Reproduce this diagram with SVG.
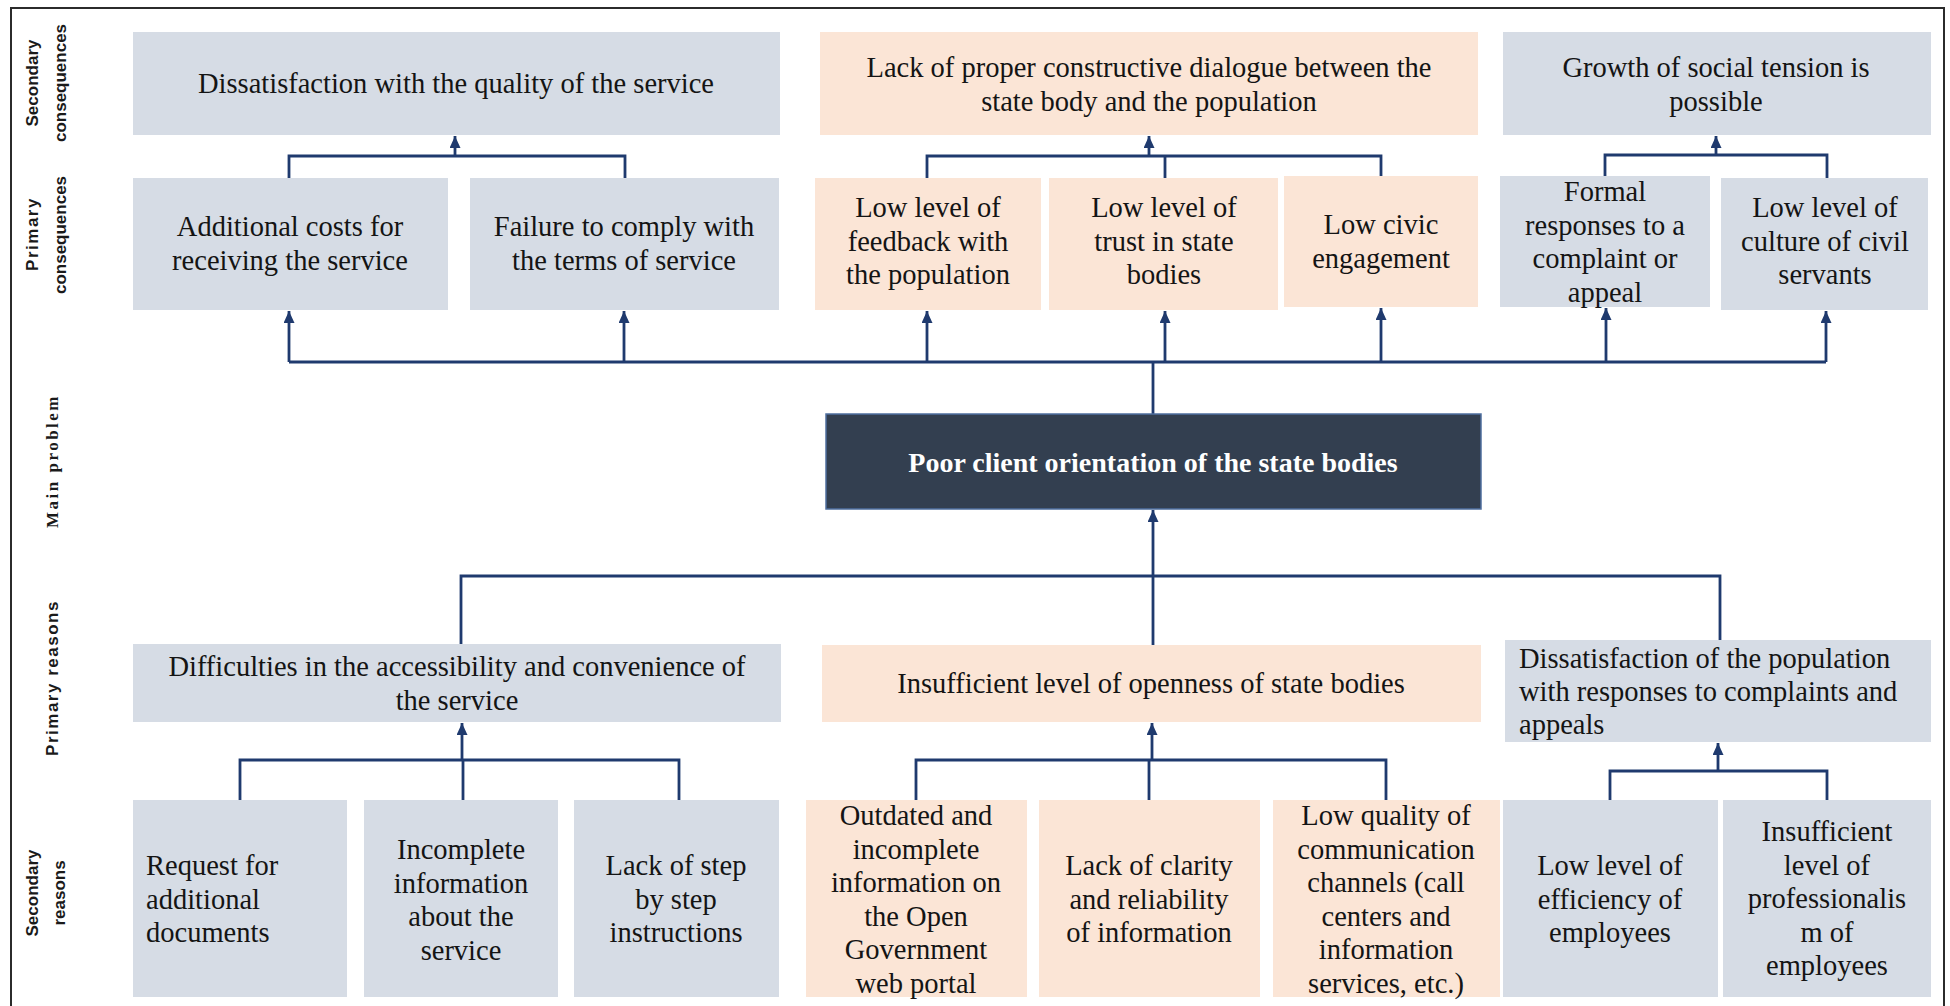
<svg xmlns="http://www.w3.org/2000/svg" width="1950" height="1006" viewBox="0 0 1950 1006">
<defs>
<style>
.bl{fill:#d6dce5}
.pe{fill:#fbe5d6}
.mn{fill:#333f50;stroke:#4f6f9f;stroke-width:1.5}
.t{font-family:"Liberation Serif","Times New Roman",serif;font-size:28.5px;fill:#141414;text-anchor:middle}
.tl{text-anchor:start}
.tm{font-family:"Liberation Serif","Times New Roman",serif;font-size:28px;font-weight:bold;fill:#ffffff;text-anchor:middle}
.lab{font-family:"Liberation Sans",Arial,sans-serif;font-size:17px;font-weight:bold;fill:#1a1a1a;text-anchor:middle}
.labm{font-family:"Liberation Serif","Times New Roman",serif;font-size:17px;font-weight:bold;fill:#1a1a1a;text-anchor:middle;letter-spacing:2.5px}
.c{fill:none;stroke:#1f3a6e;stroke-width:2.8}
</style>
<marker id="ah" markerUnits="userSpaceOnUse" markerWidth="12" markerHeight="12" refX="12" refY="5.5" orient="auto">
<path d="M0,0 L12,5.5 L0,11 z" fill="#1f3a6e"/>
</marker>
</defs>
<rect x="0" y="0" width="1950" height="1006" fill="#ffffff"/>
<path d="M11,1010 V8 H1944 V1010" fill="none" stroke="#2b2b2b" stroke-width="2"/>

<g id="row-labels">
<text class="lab" transform="translate(38,83) rotate(-90)">Secondary</text>
<text class="lab" transform="translate(66,83) rotate(-90)">consequences</text>
<text class="lab" transform="translate(38,234) rotate(-90)" letter-spacing="1.5">Primary</text>
<text class="lab" transform="translate(66,235) rotate(-90)">consequences</text>
<text class="labm" transform="translate(58,461) rotate(-90)">Main problem</text>
<text class="lab" transform="translate(58,678) rotate(-90)" letter-spacing="1.5">Primary reasons</text>
<text class="lab" transform="translate(38,893) rotate(-90)">Secondary</text>
<text class="lab" transform="translate(65,893) rotate(-90)">reasons</text>
</g>

<g id="connectors">
<path class="c" d="M289,178 V156 H625 V178"/>
<path class="c" d="M455,156 V136" marker-end="url(#ah)"/>
<path class="c" d="M927,178 V156 H1381 V176"/>
<path class="c" d="M1165,156 V178"/>
<path class="c" d="M1149,156 V136" marker-end="url(#ah)"/>
<path class="c" d="M1605,176 V155 H1827 V178"/>
<path class="c" d="M1716,155 V136" marker-end="url(#ah)"/>
<path class="c" d="M289,362 H1826"/>
<path class="c" d="M289,362 V311" marker-end="url(#ah)"/>
<path class="c" d="M624,362 V311" marker-end="url(#ah)"/>
<path class="c" d="M927,362 V311" marker-end="url(#ah)"/>
<path class="c" d="M1165,362 V311" marker-end="url(#ah)"/>
<path class="c" d="M1381,362 V308" marker-end="url(#ah)"/>
<path class="c" d="M1606,362 V308" marker-end="url(#ah)"/>
<path class="c" d="M1826,362 V311" marker-end="url(#ah)"/>
<path class="c" d="M1153,414 V361" stroke-width="4"/>
<path class="c" d="M1153,645 V510" stroke-width="3.5" marker-end="url(#ah)"/>
<path class="c" d="M461,644 V576 H1720 V640"/>
<path class="c" d="M240,800 V760 H679 V800"/>
<path class="c" d="M463,760 V800"/>
<path class="c" d="M462,760 V723" marker-end="url(#ah)"/>
<path class="c" d="M916,800 V760 H1386 V800"/>
<path class="c" d="M1149,760 V800"/>
<path class="c" d="M1152,760 V723" marker-end="url(#ah)"/>
<path class="c" d="M1610,800 V771 H1827 V800"/>
<path class="c" d="M1718,771 V743" marker-end="url(#ah)"/>
</g>

<g id="sc1"><rect class="bl" x="133" y="32" width="647" height="103"/>
<text class="t" x="456" y="93">Dissatisfaction with the quality of the service</text></g>
<g id="sc2"><rect class="pe" x="820" y="32" width="658" height="103"/>
<text class="t" x="1149" y="77">Lack of proper constructive dialogue between the<tspan x="1149" dy="33.5">state body and the population</tspan></text></g>
<g id="sc3"><rect class="bl" x="1503" y="32" width="428" height="103"/>
<text class="t" x="1716" y="77">Growth of social tension is<tspan x="1716" dy="33.5">possible</tspan></text></g>

<g id="pc1"><rect class="bl" x="133" y="178" width="315" height="132"/>
<text class="t" x="290" y="236">Additional costs for<tspan x="290" dy="33.5">receiving the service</tspan></text></g>
<g id="pc2"><rect class="bl" x="470" y="178" width="309" height="132"/>
<text class="t" x="624" y="236">Failure to comply with<tspan x="624" dy="33.5">the terms of service</tspan></text></g>
<g id="pc3"><rect class="pe" x="815" y="178" width="226" height="132"/>
<text class="t" x="928" y="217">Low level of<tspan x="928" dy="33.5">feedback with</tspan><tspan x="928" dy="33.5">the population</tspan></text></g>
<g id="pc4"><rect class="pe" x="1049" y="178" width="229" height="132"/>
<text class="t" x="1164" y="217">Low level of<tspan x="1164" dy="33.5">trust in state</tspan><tspan x="1164" dy="33.5">bodies</tspan></text></g>
<g id="pc5"><rect class="pe" x="1284" y="176" width="194" height="131"/>
<text class="t" x="1381" y="234">Low civic<tspan x="1381" dy="33.5">engagement</tspan></text></g>
<g id="pc6"><rect class="bl" x="1500" y="176" width="210" height="131"/>
<text class="t" x="1605" y="201">Formal<tspan x="1605" dy="33.5">responses to a</tspan><tspan x="1605" dy="33.5">complaint or</tspan><tspan x="1605" dy="33.5">appeal</tspan></text></g>
<g id="pc7"><rect class="bl" x="1721" y="178" width="207" height="132"/>
<text class="t" x="1825" y="217">Low level of<tspan x="1825" dy="33.5">culture of civil</tspan><tspan x="1825" dy="33.5">servants</tspan></text></g>

<g id="main"><rect class="mn" x="826" y="414" width="655" height="95"/>
<text class="tm" x="1153" y="472">Poor client orientation of the state bodies</text></g>

<g id="pr1"><rect class="bl" x="133" y="644" width="648" height="78"/>
<text class="t" x="457" y="676">Difficulties in the accessibility and convenience of<tspan x="457" dy="33.5">the service</tspan></text></g>
<g id="pr2"><rect class="pe" x="822" y="645" width="659" height="77"/>
<text class="t" x="1151" y="693">Insufficient level of openness of state bodies</text></g>
<g id="pr3"><rect class="bl" x="1505" y="640" width="426" height="102"/>
<text class="t tl" x="1519" y="668">Dissatisfaction of the population<tspan x="1519" dy="33">with responses to complaints and</tspan><tspan x="1519" dy="33">appeals</tspan></text></g>

<g id="sr1"><rect class="bl" x="133" y="800" width="214" height="197"/>
<text class="t tl" x="146" y="875">Request for<tspan x="146" dy="33.5">additional</tspan><tspan x="146" dy="33.5">documents</tspan></text></g>
<g id="sr2"><rect class="bl" x="364" y="800" width="194" height="197"/>
<text class="t" x="461" y="859">Incomplete<tspan x="461" dy="33.5">information</tspan><tspan x="461" dy="33.5">about the</tspan><tspan x="461" dy="33.5">service</tspan></text></g>
<g id="sr3"><rect class="bl" x="574" y="800" width="205" height="197"/>
<text class="t" x="676" y="875">Lack of step<tspan x="676" dy="33.5">by step</tspan><tspan x="676" dy="33.5">instructions</tspan></text></g>
<g id="sr4"><rect class="pe" x="806" y="800" width="221" height="197"/>
<text class="t" x="916" y="825">Outdated and<tspan x="916" dy="33.5">incomplete</tspan><tspan x="916" dy="33.5">information on</tspan><tspan x="916" dy="33.5">the Open</tspan><tspan x="916" dy="33.5">Government</tspan><tspan x="916" dy="33.5">web portal</tspan></text></g>
<g id="sr5"><rect class="pe" x="1039" y="800" width="221" height="197"/>
<text class="t" x="1149" y="875">Lack of clarity<tspan x="1149" dy="33.5">and reliability</tspan><tspan x="1149" dy="33.5">of information</tspan></text></g>
<g id="sr6"><rect class="pe" x="1273" y="800" width="227" height="197"/>
<text class="t" x="1386" y="825">Low quality of<tspan x="1386" dy="33.5">communication</tspan><tspan x="1386" dy="33.5">channels (call</tspan><tspan x="1386" dy="33.5">centers and</tspan><tspan x="1386" dy="33.5">information</tspan><tspan x="1386" dy="33.5">services, etc.)</tspan></text></g>
<g id="sr7"><rect class="bl" x="1503" y="800" width="215" height="197"/>
<text class="t" x="1610" y="875">Low level of<tspan x="1610" dy="33.5">efficiency of</tspan><tspan x="1610" dy="33.5">employees</tspan></text></g>
<g id="sr8"><rect class="bl" x="1723" y="800" width="208" height="197"/>
<text class="t" x="1827" y="841">Insufficient<tspan x="1827" dy="33.5">level of</tspan><tspan x="1827" dy="33.5">professionalis</tspan><tspan x="1827" dy="33.5">m of</tspan><tspan x="1827" dy="33.5">employees</tspan></text></g>
</svg>
